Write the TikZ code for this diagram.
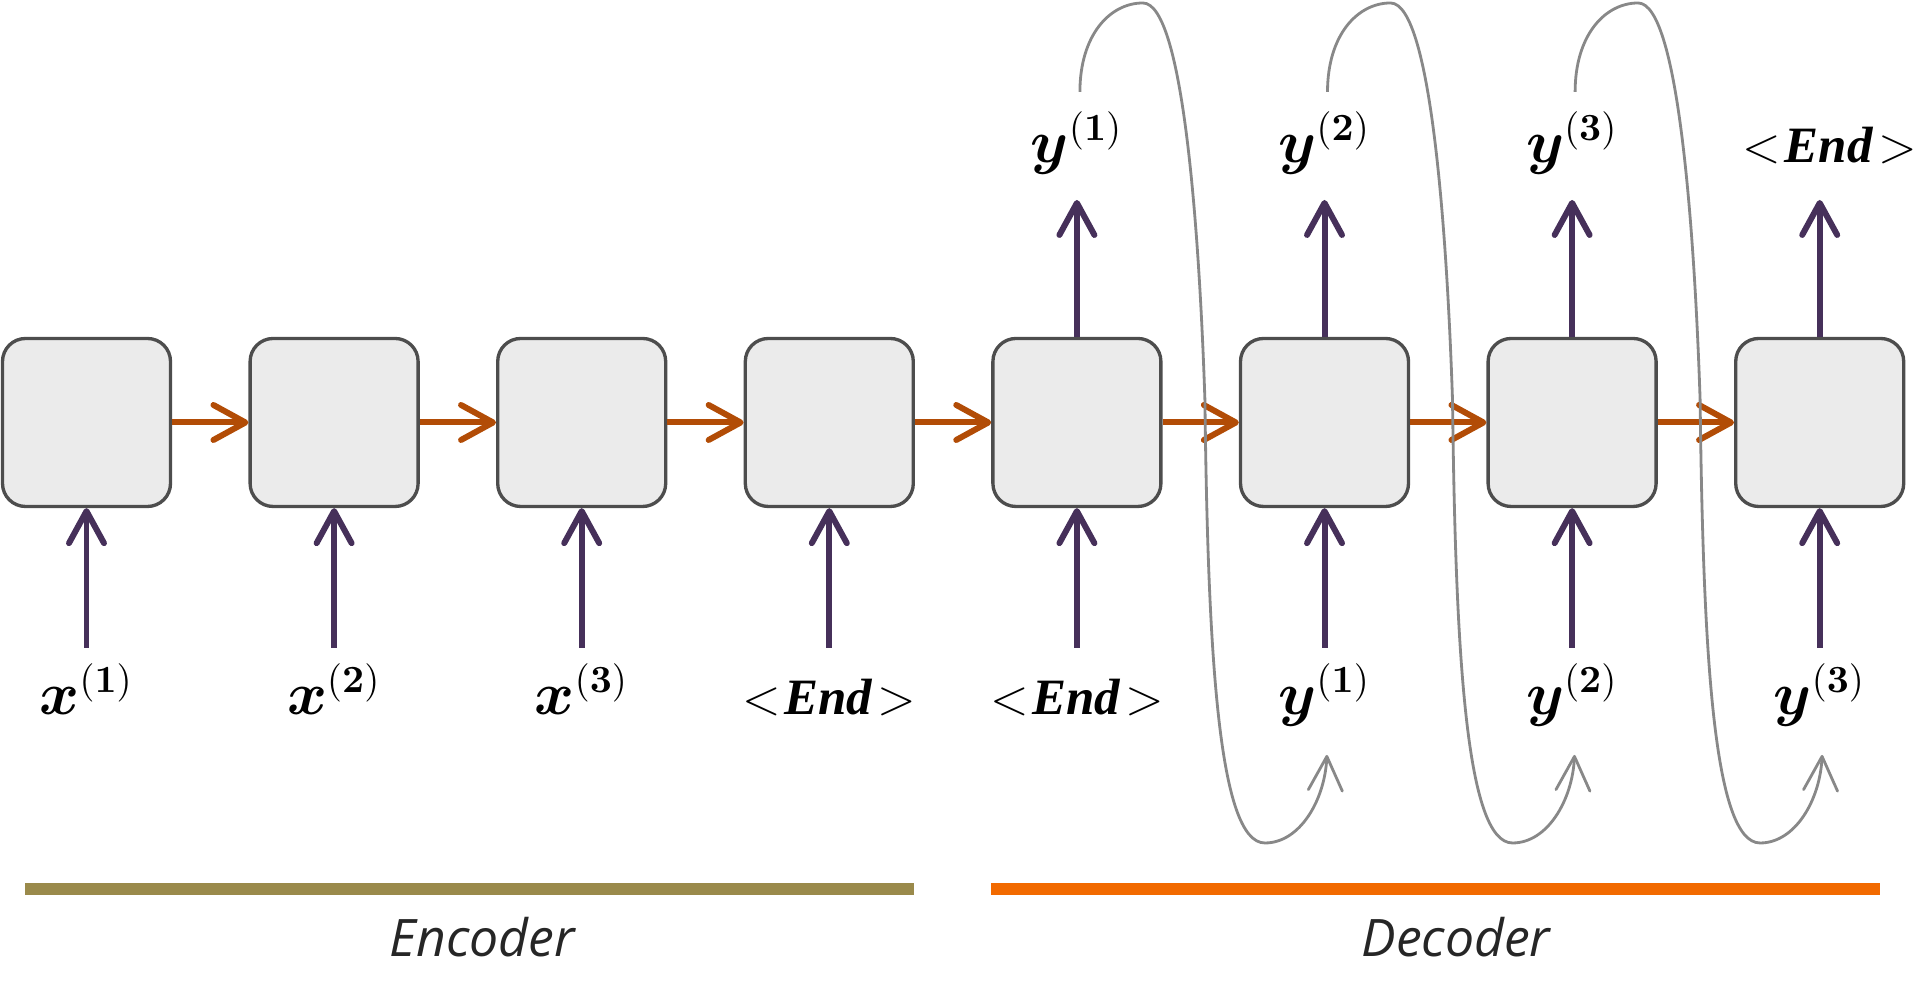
\documentclass[tikz,border=0pt]{standalone}
\usepackage[no-math]{fontspec}
\usepackage{amsmath,bm,graphicx}
\newfontfamily\capfont{Open Sans}
\newfontfamily\endfont{Liberation Serif}
\usetikzlibrary{arrows.meta,calc}
\definecolor{boxfill}{HTML}{EBEBEB}
\definecolor{boxline}{HTML}{4D4D4D}
\definecolor{hid}{HTML}{B24C06}
\definecolor{io}{HTML}{46305A}
\definecolor{loopc}{HTML}{888888}
\definecolor{encbar}{HTML}{9A8A4B}
\definecolor{decbar}{HTML}{F26A00}
\tikzset{
 cell/.style={draw=boxline, fill=boxfill, line width=0.95pt, rounded corners=0.23cm,
   minimum width=1.68cm, minimum height=1.68cm, inner sep=0pt},
 harrow/.style={draw=hid, line width=1.7pt, -{Straight Barb[length=3.2mm,width=3.5mm,round]}},
 varrow/.style={draw=io, line width=1.7pt, -{Straight Barb[length=3.2mm,width=3.5mm,round]}},
 fback/.style={draw=loopc, line width=0.8pt, -{Straight Barb[length=3.4mm,width=3.4mm,round]}},
 lab/.style={anchor=base, inner sep=0pt, font=\fontsize{16}{18}\selectfont},
 endlab/.style={anchor=base, inner sep=0pt, font=\fontsize{14.5}{17}\selectfont},
 bar/.style={line width=0.12cm},
 captext/.style={anchor=base, inner sep=0pt, font=\capfont\itshape\fontsize{14.7}{17}\selectfont, text=black!85},
}
\newcommand{\EndTok}{$<$\kern1pt{\endfont\bfseries\itshape End}\kern1.5pt$>$}
\begin{document}
\begin{tikzpicture}
\useasboundingbox (0,0) rectangle (19.23,10);
% cells
\foreach \k in {0,...,7}{
  \node[cell] (c\k) at ({0.865+2.476*\k},5.775) {};
  \coordinate (i\k) at ({0.865+2.476*\k},3.52);
}
% hidden-state arrows
\foreach \k [evaluate=\k as \n using int(\k+1)] in {0,...,6}{
  \draw[harrow] (c\k.east) -- (c\n.west);
}
% inputs
\foreach \k in {0,...,7}{
  \draw[varrow] (i\k) -- (c\k.south);
}
\node[lab] (l0) at ({0.865+2.476*0},2.85) {$\bm{x}^{(\mathbf{1})}$};
\node[lab] (l1) at ({0.865+2.476*1},2.85) {$\bm{x}^{(\mathbf{2})}$};
\node[lab] (l2) at ({0.865+2.476*2},2.85) {$\bm{x}^{(\mathbf{3})}$};
\node[endlab] (l3) at ({0.865+2.476*3},2.85) {\EndTok};
\node[endlab] (l4) at ({0.865+2.476*4},2.85) {\EndTok};
\node[lab] (l5) at ({0.865+2.476*5},2.85) {$\bm{y}^{(\mathbf{1})}$};
\node[lab] (l6) at ({0.865+2.476*6},2.85) {$\bm{y}^{(\mathbf{2})}$};
\node[lab] (l7) at ({0.865+2.476*7},2.85) {$\bm{y}^{(\mathbf{3})}$};
% outputs
\foreach \k in {4,...,7}{
  \coordinate (o\k) at ({0.865+2.476*\k},8.0);
  \draw[varrow] (c\k.north) -- (o\k);
}
\node[lab] (t4) at ({0.865+2.476*4},8.37) {$\bm{y}^{(\mathbf{1})}$};
\node[lab] (t5) at ({0.865+2.476*5},8.37) {$\bm{y}^{(\mathbf{2})}$};
\node[lab] (t6) at ({0.865+2.476*6},8.37) {$\bm{y}^{(\mathbf{3})}$};
\node[endlab] (t7) at ({0.865+2.476*7+0.1},8.37) {\EndTok};
% feedback loops
\foreach \k in {4,5,6}{
  \pgfmathsetmacro\xo{0.865+2.476*\k}
  \begin{scope}[shift={(\xo,0)}]
    \draw[fback] (0.03,9.08) .. controls (0.03,9.65) and (0.33,9.97) .. (0.66,9.97)
      .. controls (1.08,9.97) and (1.23,7.5) .. (1.28,6.0)
      .. controls (1.31,3.5) and (1.41,1.57) .. (1.88,1.57)
      .. controls (2.23,1.57) and (2.48,2.0) .. (2.50,2.45);
  \end{scope}
}
% bars and captions
\draw[bar, encbar] (0.25,1.11) -- (9.14,1.11);
\draw[bar, decbar] (9.91,1.11) -- (18.80,1.11);
\node[captext] (enc) at (4.82,0.43) {Encoder};
\node[captext] (dec) at (14.56,0.43) {Decoder};
\end{tikzpicture}
\end{document}
